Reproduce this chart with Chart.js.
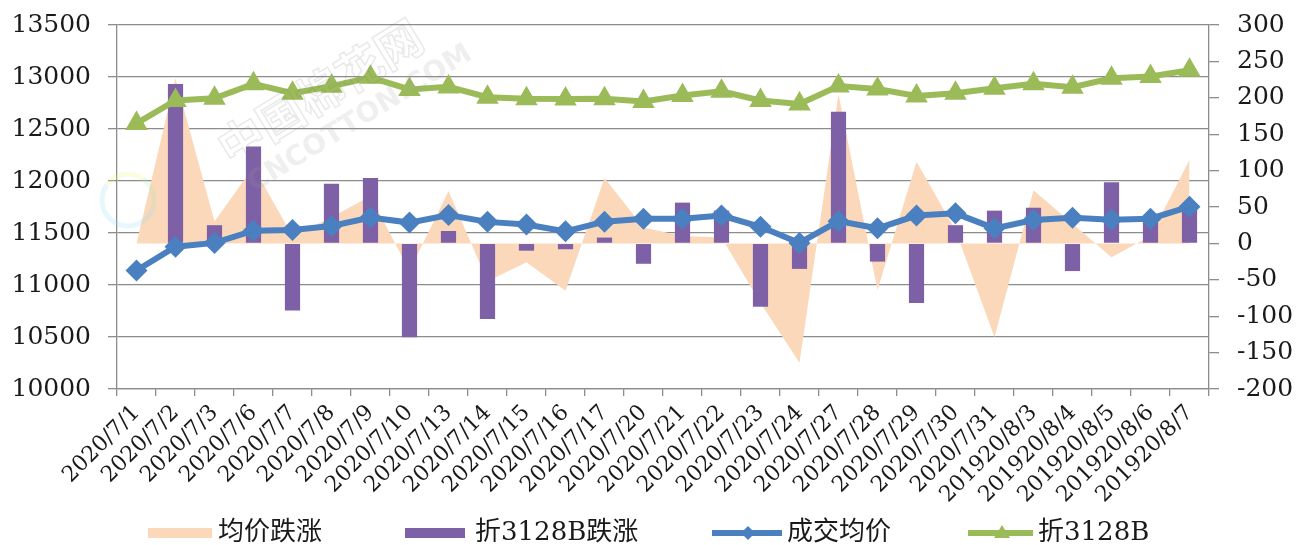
<!DOCTYPE html>
<html>
<head>
<meta charset="utf-8">
<script src="https://cdn.jsdelivr.net/npm/chart.js@4.4.1/dist/chart.umd.min.js"></script>
<style>
  html, body { margin: 0; padding: 0; background: #fff; }
  #wrap { width: 1309px; height: 545px; position: relative; }
</style>
</head>
<body>
<div id="wrap"><canvas id="trendChart"></canvas></div>
<script>
// trading days
const dates = [
  "2020/7/1", "2020/7/2", "2020/7/3", "2020/7/6", "2020/7/7", "2020/7/8", "2020/7/9",
  "2020/7/10", "2020/7/13", "2020/7/14", "2020/7/15", "2020/7/16", "2020/7/17",
  "2020/7/20", "2020/7/21", "2020/7/22", "2020/7/23", "2020/7/24", "2020/7/27",
  "2020/7/28", "2020/7/29", "2020/7/30", "2020/7/31", "201920/8/3", "201920/8/4",
  "201920/8/5", "201920/8/6", "201920/8/7"
];

// 均价跌涨 (right axis)
const avgChange = [0, 227, 30, 105, 10, 36, 65, -38, 72, -52, -26, -65, 90, 22,
  10, 8, -82, -164, 205, -64, 112, 18, -129, 73, 27, -19, 10, 115];

// 折3128B跌涨 (right axis)
const convChange = [0, 219, 25, 133, -92, 82, 90, -129, 17, -104, -10, -8, 8, -28,
  56, 45, -87, -35, 181, -25, -82, 25, 45, 49, -38, 84, 35, 48];

// 成交均价 (left axis)
const avgPrice = [11140, 11368, 11405, 11522, 11530, 11567, 11648, 11600, 11672, 11607,
  11582, 11516, 11609, 11638, 11636, 11668, 11560, 11404, 11614, 11545, 11668, 11689,
  11545, 11625, 11646, 11628, 11638, 11753];

// 折3128B (left axis)
const convPrice = [12554, 12774, 12796, 12934, 12844, 12911, 12997, 12880, 12905, 12806,
  12790, 12789, 12790, 12764, 12822, 12862, 12774, 12741, 12914, 12885, 12818, 12844,
  12892, 12934, 12901, 12988, 13004, 13065];

const leftTicks = [10000, 13500, 500];
const rightTicks = [-200, 300, 50];

const PEACH = "#FBD8B9";
const PURPLE = "#7E60A6";
const BLUE = "#4A80C0";
const GREEN = "#9BBB59";
const GRID = "#8C8C8C";
const TEXT = "#1a1a1a";
const FONT = "'DejaVu Serif', 'Noto Sans CJK SC', serif";

// legend + watermark, drawn straight onto the canvas
const legendPlugin = {
  id: "bottomLegend",
  afterDraw(chart) {
    const c = chart.ctx;
    const y = 533;
    c.save();

    c.fillStyle = PEACH;
    c.fillRect(148, 528, 64, 10);
    c.fillStyle = PURPLE;
    c.fillRect(405, 528, 60, 10);

    c.lineWidth = 6;
    c.strokeStyle = BLUE;
    c.beginPath(); c.moveTo(712, y); c.lineTo(782, y); c.stroke();
    c.fillStyle = BLUE;
    c.beginPath();
    c.moveTo(748, y - 7); c.lineTo(755, y); c.lineTo(748, y + 7); c.lineTo(741, y);
    c.closePath(); c.fill();

    c.strokeStyle = GREEN;
    c.beginPath(); c.moveTo(968, y); c.lineTo(1033, y); c.stroke();
    c.fillStyle = GREEN;
    c.beginPath();
    c.moveTo(1002, y - 8); c.lineTo(1010, y + 5); c.lineTo(994, y + 5);
    c.closePath(); c.fill();

    c.fillStyle = TEXT;
    c.font = "26px " + FONT;
    c.textBaseline = "middle";
    c.textAlign = "left";
    c.fillText("均价跌涨", 218, y);
    c.fillText("折3128B跌涨", 475, y);
    c.fillText("成交均价", 787, y);
    c.fillText("折3128B", 1038, y);
    c.restore();
  },
  afterDatasetsDraw(chart) {
    const c = chart.ctx;
    c.save();
    // faint site watermark
    c.globalAlpha = 0.22;
    c.lineWidth = 5;
    c.strokeStyle = "#8fe0f5";
    c.beginPath(); c.arc(128, 200, 26, Math.PI * 0.1, Math.PI * 1.2); c.stroke();
    c.strokeStyle = "#eef07a";
    c.beginPath(); c.arc(128, 200, 26, Math.PI * 1.2, Math.PI * 1.7); c.stroke();
    c.strokeStyle = "#a6ebb8";
    c.beginPath(); c.arc(128, 200, 26, Math.PI * 1.7, Math.PI * 2.1); c.stroke();

    c.globalAlpha = 0.16;
    c.translate(320, 92);
    c.rotate(-0.55);
    c.strokeStyle = "#777";
    c.lineWidth = 1.5;
    c.textAlign = "center";
    c.textBaseline = "middle";
    c.font = "bold 46px 'Noto Sans CJK SC'";
    c.strokeText("中国棉花网", 0, 0);
    c.fillStyle = "#999";
    c.font = "bold 28px 'DejaVu Sans'";
    c.fillText("CNCOTTON.COM", 20, 44);
    c.restore();
  }
};

// keep the value axes from pushing the plot area down
const fixAxis = (width) => (s) => {
  s.width = width;
  s.paddingTop = 0;
  s.paddingBottom = 0;
};

const ctx = document.getElementById("trendChart").getContext("2d");

new Chart(ctx, {
  type: "bar",
  data: {
    labels: dates,
    datasets: [
      {
        type: "line",
        label: "均价跌涨",
        data: avgChange,
        yAxisID: "y1",
        fill: "origin",
        backgroundColor: PEACH,
        borderWidth: 0,
        pointRadius: 0,
        tension: 0,
        order: 4
      },
      {
        type: "bar",
        label: "折3128B跌涨",
        data: convChange,
        yAxisID: "y1",
        backgroundColor: PURPLE,
        categoryPercentage: 1,
        barPercentage: 0.39,
        order: 3
      },
      {
        type: "line",
        label: "成交均价",
        data: avgPrice,
        yAxisID: "y",
        borderColor: BLUE,
        backgroundColor: BLUE,
        borderWidth: 6,
        pointStyle: "rectRot",
        pointRadius: 11,
        pointBorderWidth: 0,
        tension: 0,
        order: 2
      },
      {
        type: "line",
        label: "折3128B",
        data: convPrice,
        yAxisID: "y",
        borderColor: GREEN,
        backgroundColor: GREEN,
        borderWidth: 6,
        pointStyle: "triangle",
        pointRadius: 13,
        pointBorderWidth: 0,
        tension: 0,
        order: 1
      }
    ]
  },
  options: {
    responsive: true,
    maintainAspectRatio: false,
    animation: false,
    events: [],
    layout: { padding: { top: 25, left: 0, right: 0, bottom: 0 } },
    plugins: {
      legend: { display: false },
      tooltip: { enabled: false }
    },
    scales: {
      x: {
        offset: true,
        grid: { drawOnChartArea: false, offset: true, tickLength: 7, color: GRID, lineWidth: 1.3 },
        border: { color: GRID, width: 1.3 },
        ticks: {
          autoSkip: false,
          minRotation: 45,
          maxRotation: 45,
          padding: 4,
          color: TEXT,
          font: { family: FONT, size: 22 }
        },
        afterFit: (s) => { s.height = 156; }
      },
      y: {
        position: "left",
        min: leftTicks[0],
        max: leftTicks[1],
        ticks: {
          stepSize: leftTicks[2],
          padding: 17,
          color: TEXT,
          font: { family: FONT, size: 25 },
          callback: (v) => String(v)
        },
        grid: { color: GRID, lineWidth: 1.3, tickLength: 9 },
        border: { color: GRID, width: 1.3 },
        afterFit: fixAxis(117)
      },
      y1: {
        position: "right",
        min: rightTicks[0],
        max: rightTicks[1],
        ticks: {
          stepSize: rightTicks[2],
          padding: 18,
          color: TEXT,
          font: { family: FONT, size: 25 },
          callback: (v) => String(v)
        },
        grid: { drawOnChartArea: false, color: GRID, lineWidth: 1.3, tickLength: 10 },
        border: { color: GRID, width: 1.3 },
        afterFit: fixAxis(100)
      }
    }
  },
  plugins: [legendPlugin]
});
</script>
</body>
</html>
